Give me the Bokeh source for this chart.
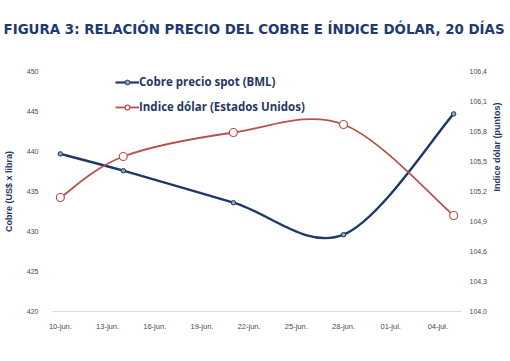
import math
import pandas as pd
from bokeh.plotting import figure
from bokeh.models import (Range1d, LinearAxis, FixedTicker, Legend, LegendItem, ColumnDataSource, Title)
from bokeh.embed import file_html
from bokeh.resources import INLINE

# ---- data ----
fechas = ["2019-06-10", "2019-06-14", "2019-06-21", "2019-06-28", "2019-07-05"]
cobre = [439.7, 437.6, 433.6, 429.6, 444.7]
dolar = [105.14, 105.55, 105.79, 105.87, 104.96]

tick_fechas = ["2019-06-10", "2019-06-13", "2019-06-16", "2019-06-19", "2019-06-22",
               "2019-06-25", "2019-06-28", "2019-07-01", "2019-07-04"]
tick_labels = ["10-jun.", "13-jun.", "16-jun.", "19-jun.", "22-jun.",
               "25-jun.", "28-jun.", "01-jul.", "04-jul."]
cobre_ticks = [420, 425, 430, 435, 440, 445, 450]
dolar_ticks = [104.0, 104.3, 104.6, 104.9, 105.2, 105.5, 105.8, 106.1, 106.4]
titulo = "FIGURA 3: RELACIÓN PRECIO DEL COBRE E ÍNDICE DÓLAR, 20 DÍAS"

NAVY = "#1F3864"
RED = "#B9514C"
TXT = "#3F4A5E"

def ms(s):
    return pd.Timestamp(s).value / 1e6

xs = [ms(f) for f in fechas]
DAY = 86400000.0

def smooth(x, y):
    # Catmull-Rom style bezier control points (Excel-like smoothing)
    n = len(x)
    d = dict(x0=[], y0=[], x1=[], y1=[], cx0=[], cy0=[], cx1=[], cy1=[])
    for i in range(n - 1):
        ip = max(i - 1, 0)
        inn = min(i + 2, n - 1)
        d["x0"].append(x[i]); d["y0"].append(y[i])
        d["x1"].append(x[i + 1]); d["y1"].append(y[i + 1])
        d["cx0"].append(x[i] + (x[i + 1] - x[ip]) / 6.0)
        d["cy0"].append(y[i] + (y[i + 1] - y[ip]) / 6.0)
        d["cx1"].append(x[i + 1] - (x[inn] - x[i]) / 6.0)
        d["cy1"].append(y[i + 1] - (y[inn] - y[i]) / 6.0)
    return ColumnDataSource(d)

p = figure(width=510, height=361, output_backend="svg", toolbar_location=None,
           x_axis_type="datetime",
           x_range=Range1d(xs[0] - DAY / 2, xs[-1] + DAY / 2),
           y_range=Range1d(420, 450),
           min_border_left=50, min_border_right=49, min_border_top=71, min_border_bottom=50)
p.extra_y_ranges = {"dxy": Range1d(104.0, 106.4)}
p.outline_line_color = None
p.xgrid.grid_line_color = None
p.ygrid.grid_line_color = None
p.background_fill_color = "white"
p.border_fill_color = "white"

# title: a spacer title next to the frame, then the real title above it
p.add_layout(Title(text=" ", text_font_size="1px", standoff=32), "above")
p.add_layout(Title(text=titulo, align="left", offset=-49, standoff=0,
                   text_font="DejaVu Sans", text_font_style="bold",
                   text_font_size="13.4px", text_color="#1F3A70"), "above")

# x axis
p.xaxis.ticker = FixedTicker(ticks=[ms(t) for t in tick_fechas])
p.xaxis.major_label_overrides = {ms(t): l for t, l in zip(tick_fechas, tick_labels)}
p.xaxis.axis_line_color = "#D9D9D9"
p.xaxis.major_tick_line_color = None
p.xaxis.minor_tick_line_color = None
p.xaxis.major_label_text_font = "Liberation Sans"
p.xaxis.major_label_text_font_size = "7.5px"
p.xaxis.major_label_text_color = TXT
p.xaxis.major_label_standoff = 4

# left axis
p.yaxis.ticker = FixedTicker(ticks=cobre_ticks)
p.yaxis.axis_line_color = None
p.yaxis.major_tick_line_color = None
p.yaxis.minor_tick_line_color = None
p.yaxis.major_label_text_font = "Liberation Sans"
p.yaxis.major_label_text_font_size = "7px"
p.yaxis.major_label_text_color = TXT
p.yaxis.major_label_standoff = 8
p.yaxis.axis_label = "Cobre (US$ x libra)"
p.yaxis.axis_label_text_font = "Liberation Sans"
p.yaxis.axis_label_text_font_style = "bold"
p.yaxis.axis_label_text_font_size = "9px"
p.yaxis.axis_label_text_color = NAVY
p.yaxis.axis_label_standoff = 10

# right axis
ra = LinearAxis(y_range_name="dxy", ticker=FixedTicker(ticks=dolar_ticks))
ra.major_label_overrides = {t: f"{t:.1f}".replace(".", ",") for t in dolar_ticks}
ra.axis_line_color = None
ra.major_tick_line_color = None
ra.minor_tick_line_color = None
ra.major_label_text_font = "Liberation Sans"
ra.major_label_text_font_size = "7px"
ra.major_label_text_color = TXT
ra.major_label_standoff = 2
ra.axis_label = "Indice dólar (puntos)"
ra.axis_label_text_font = "Liberation Sans"
ra.axis_label_text_font_style = "bold"
ra.axis_label_text_font_size = "9px"
ra.axis_label_text_color = NAVY
ra.axis_label_text_align = "center"
ra.axis_label_text_baseline = "middle"
ra.axis_label_standoff = 7
if "axis_label_orientation" in LinearAxis.properties():
    ra.axis_label_orientation = math.pi / 2
p.add_layout(ra, "right")

# series
src_c = ColumnDataSource(dict(x=xs, y=cobre))
src_d = ColumnDataSource(dict(x=xs, y=dolar))

p.bezier(x0="x0", y0="y0", x1="x1", y1="y1", cx0="cx0", cy0="cy0", cx1="cx1", cy1="cy1",
         source=smooth(xs, cobre), line_color=NAVY, line_width=2.4)
lc = p.line("x", "y", source=src_c, line_color=NAVY, line_width=2.2, visible=False)
sc = p.scatter("x", "y", source=src_c, size=4.5, marker="circle",
               fill_color="#8EA3C4", line_color=NAVY, line_width=1)

p.bezier(x0="x0", y0="y0", x1="x1", y1="y1", cx0="cx0", cy0="cy0", cx1="cx1", cy1="cy1",
         source=smooth(xs, dolar), line_color=RED, line_width=1.8, y_range_name="dxy")
ld = p.line("x", "y", source=src_d, line_color=RED, line_width=1.8, y_range_name="dxy", visible=False)
sd = p.scatter("x", "y", source=src_d, size=8, marker="circle",
               fill_color="white", line_color=RED, line_width=1.2, y_range_name="dxy")

legend = Legend(items=[LegendItem(label="Cobre precio spot (BML)", renderers=[lc, sc]),
                       LegendItem(label="Indice dólar (Estados Unidos)", renderers=[ld, sd])],
                location=(63, 197), orientation="vertical")
legend.background_fill_alpha = 0
legend.border_line_color = None
legend.inactive_fill_alpha = 0
legend.padding = 0
legend.margin = 0
legend.spacing = 10
legend.label_height = 12
legend.glyph_height = 12
legend.glyph_width = 24
legend.label_standoff = 0
legend.label_text_font = "Open Sans"
legend.label_text_font_style = "bold"
legend.label_text_font_size = "11.5px"
legend.label_text_color = NAVY
p.add_layout(legend, "center")

open("out.html", "w").write(file_html(p, INLINE))
